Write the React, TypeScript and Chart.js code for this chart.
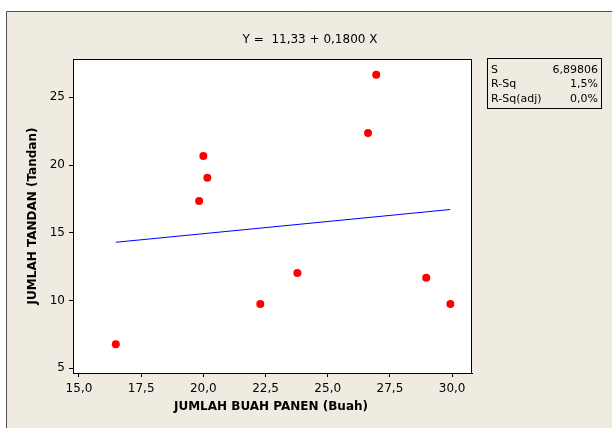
import React, { useEffect, useRef } from "react";
import { Chart, registerables } from "chart.js";

Chart.register(...registerables);

const titleText = "Y =  11,33 + 0,1800 X";
const xAxisTitle = "JUMLAH BUAH PANEN (Buah)";
const yAxisTitle = "JUMLAH TANDAN (Tandan)";

const buahPanen = [16.48, 19.83, 20.0, 20.16, 22.29, 23.78, 26.62, 26.95, 28.96, 29.93];
const jumlahTandan = [6.77, 17.35, 20.67, 19.07, 9.75, 12.03, 22.37, 26.67, 11.69, 9.75];

const fitX = [16.48, 29.93];
const fitY = [14.3, 16.72];

const xTicks = [15, 17.5, 20, 22.5, 25, 27.5, 30];
const yTicks = [5, 10, 15, 20, 25];

const statLabels = ["S", "R-Sq", "R-Sq(adj)"];
const statValues = ["6,89806", "1,5%", "0,0%"];

const FONT = "'DejaVu Sans', sans-serif";
const BG = "#EFEBE1";

const framePlugin = {
  id: "framePlugin",
  beforeDraw(chart: any) {
    const { ctx, chartArea } = chart;
    const w = chart.width;
    const h = chart.height;
    ctx.save();
    ctx.fillStyle = "#ffffff";
    ctx.fillRect(0, 0, w, h);
    ctx.fillStyle = BG;
    ctx.fillRect(6, 12, w - 6, h - 12);
    ctx.strokeStyle = "#505050";
    ctx.lineWidth = 1;
    ctx.beginPath();
    ctx.moveTo(6.5, h);
    ctx.lineTo(6.5, 11.5);
    ctx.lineTo(w, 11.5);
    ctx.stroke();
    ctx.fillStyle = "#ffffff";
    ctx.fillRect(chartArea.left, chartArea.top, chartArea.right - chartArea.left, chartArea.bottom - chartArea.top);
    ctx.restore();
  },
  afterDraw(chart: any) {
    const { ctx, chartArea } = chart;
    ctx.save();
    ctx.strokeStyle = "#000";
    ctx.lineWidth = 1;
    ctx.strokeRect(chartArea.left + 0.5, chartArea.top + 0.5, chartArea.right - chartArea.left - 1, chartArea.bottom - chartArea.top);

    // title
    ctx.fillStyle = "#000";
    ctx.font = `12px ${FONT}`;
    ctx.textAlign = "center";
    ctx.textBaseline = "middle";
    ctx.fillText(titleText, 310, 40);

    // axis titles
    ctx.font = `bold 12px ${FONT}`;
    ctx.fillText(xAxisTitle, 271, 407);
    ctx.save();
    ctx.translate(33, 216);
    ctx.rotate(-Math.PI / 2);
    ctx.fillText(yAxisTitle, 0, 0);
    ctx.restore();

    // stats box
    ctx.strokeRect(487.5, 58.5, 114, 50);
    ctx.font = `11px ${FONT}`;
    ctx.textBaseline = "middle";
    statLabels.forEach((lab, i) => {
      const y = 70 + i * 14.5;
      ctx.textAlign = "left";
      ctx.fillText(lab, 491, y);
      ctx.textAlign = "right";
      ctx.fillText(statValues[i], 598, y);
    });
    ctx.restore();
  },
};

export default function App() {
  const ref = useRef<HTMLCanvasElement>(null);
  useEffect(() => {
    if (!ref.current) return;
    const chart = new Chart(ref.current, {
      type: "scatter",
      data: {
        datasets: [
          {
            type: "line",
            data: fitX.map((x, i) => ({ x, y: fitY[i] })),
            borderColor: "#0000FF",
            borderWidth: 1,
            pointRadius: 0,
            fill: false,
          } as any,
          {
            type: "scatter",
            data: buahPanen.map((x, i) => ({ x, y: jumlahTandan[i] })),
            backgroundColor: "#FF0000",
            borderWidth: 0,
            pointRadius: 4,
          },
        ],
      },
      plugins: [framePlugin],
      options: {
        responsive: false,
        animation: false,
        devicePixelRatio: 1,
        layout: { padding: { left: 0, top: 59, right: 140, bottom: 0 } },
        plugins: { legend: { display: false }, tooltip: { enabled: false }, title: { display: false } },
        scales: {
          x: {
            type: "linear",
            min: 14.76,
            max: 30.8,
            afterBuildTicks: (s: any) => {
              s.ticks = xTicks.map((v) => ({ value: v }));
            },
            afterFit: (s: any) => {
              s.height = 55;
            },
            grid: { drawOnChartArea: false, drawTicks: true, tickLength: 4, color: "#000" },
            border: { display: true, color: "#000" },
            ticks: {
              color: "#000",
              padding: 5,
              maxRotation: 0,
              font: { family: FONT, size: 12 },
              callback: (v: any) => Number(v).toFixed(1).replace(".", ","),
            },
          },
          y: {
            type: "linear",
            min: 4.65,
            max: 27.83,
            afterBuildTicks: (s: any) => {
              s.ticks = yTicks.map((v) => ({ value: v }));
            },
            afterFit: (s: any) => {
              s.width = 73;
            },
            grid: { drawOnChartArea: false, drawTicks: true, tickLength: 4, color: "#000" },
            border: { display: true, color: "#000" },
            ticks: {
              color: "#000",
              padding: 4,
              font: { family: FONT, size: 12 },
              callback: (v: any) => String(v),
            },
          },
        },
      },
    } as any);
    return () => chart.destroy();
  }, []);
  return (
    <div style={{ position: "absolute", left: 0, top: 0, width: 612, height: 428 }}>
      <canvas ref={ref} width={612} height={428} style={{ width: 612, height: 428 }} />
    </div>
  );
}
